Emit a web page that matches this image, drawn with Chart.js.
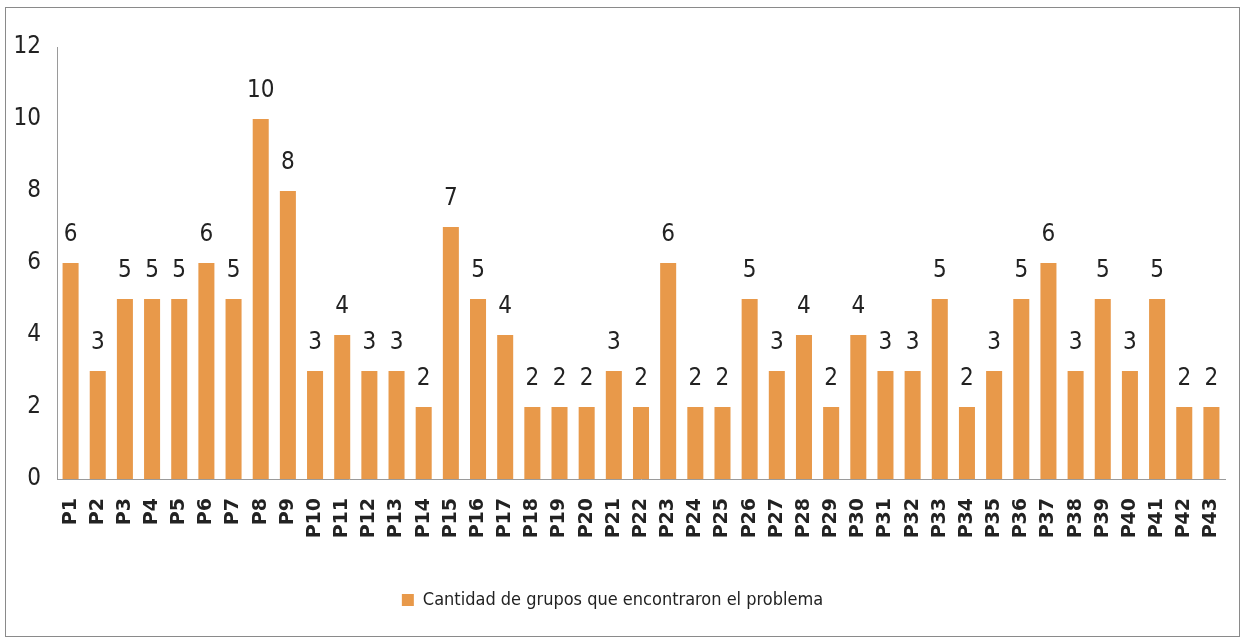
<!DOCTYPE html>
<html>
<head>
  <meta charset="UTF-8">
  <title>Cantidad de grupos</title>
  <script src="https://cdn.jsdelivr.net/npm/chart.js"></script>
  <style>
    body { margin: 0; padding: 0; background: #fff; }
    #chart-container { position: relative; width: 1247px; height: 644px; }
    #frame {
      position: absolute; left: 5px; top: 7px; width: 1233px; height: 628px;
      border: 1px solid #8a8a8a; pointer-events: none;
    }
  </style>
</head>
<body>
  <div id="chart-container">
    <canvas id="myChart" width="1247" height="644"></canvas>
    <div id="frame"></div>
  </div>
  <script>
    const categorias = ['P1','P2','P3','P4','P5','P6','P7','P8','P9','P10','P11','P12','P13','P14','P15',
      'P16','P17','P18','P19','P20','P21','P22','P23','P24','P25','P26','P27','P28','P29','P30',
      'P31','P32','P33','P34','P35','P36','P37','P38','P39','P40','P41','P42','P43'];
    const grupos = [6,3,5,5,5,6,5,10,8,3,4,3,3,2,7,5,4,2,2,2,3,2,6,2,2,5,3,4,2,4,3,3,5,2,3,5,6,3,5,3,5,2,2];
    const serieNombre = 'Cantidad de grupos que encontraron el problema';

    const narrow = "'Liberation Sans Narrow', 'DejaVu Sans Condensed', sans-serif";

    // etiquetas encima de cada barra
    const etiquetas = {
      id: 'etiquetas',
      afterDatasetsDraw(chart) {
        const ctx = chart.ctx;
        const meta = chart.getDatasetMeta(0);
        ctx.save();
        ctx.font = '24px ' + narrow;
        ctx.fillStyle = '#222';
        ctx.textAlign = 'center';
        ctx.textBaseline = 'bottom';
        meta.data.forEach((bar, i) => {
          ctx.fillText(grupos[i], bar.x, bar.y - 16);
        });
        ctx.restore();
      }
    };

    const ctx = document.getElementById('myChart').getContext('2d');
    new Chart(ctx, {
      type: 'bar',
      data: {
        labels: categorias,
        datasets: [{
          label: serieNombre,
          data: grupos,
          backgroundColor: '#E8994A',
          borderWidth: 0,
          barPercentage: 0.59,
          categoryPercentage: 1
        }]
      },
      options: {
        responsive: false,
        animation: false,
        layout: { padding: { top: 47, right: 22, left: 0, bottom: 25 } },
        plugins: {
          legend: {
            position: 'bottom',
            labels: {
              font: { family: narrow, size: 18 },
              color: '#222',
              boxWidth: 12,
              boxHeight: 12,
              padding: 10
            }
          },
          tooltip: { enabled: false }
        },
        scales: {
          y: {
            min: 0,
            max: 12,
            ticks: { stepSize: 2, font: { family: narrow, size: 24 }, color: '#222', padding: 16 },
            grid: { display: false, drawTicks: false },
            border: { color: '#9a9a9a', width: 1 },
            afterFit: s => { s.width = 57; }
          },
          x: {
            offset: true,
            ticks: {
              font: { family: 'DejaVu Sans', size: 19, weight: 'bold' },
              color: '#222',
              minRotation: 90,
              maxRotation: 90,
              autoSkip: false,
              padding: 19
            },
            grid: { display: false, drawTicks: false },
            border: { color: '#9a9a9a', width: 1 },
            afterFit: s => { s.height = 102; s.paddingLeft = 0; s.paddingRight = 0; }
          }
        }
      },
      plugins: [etiquetas]
    });
  </script>
</body>
</html>
